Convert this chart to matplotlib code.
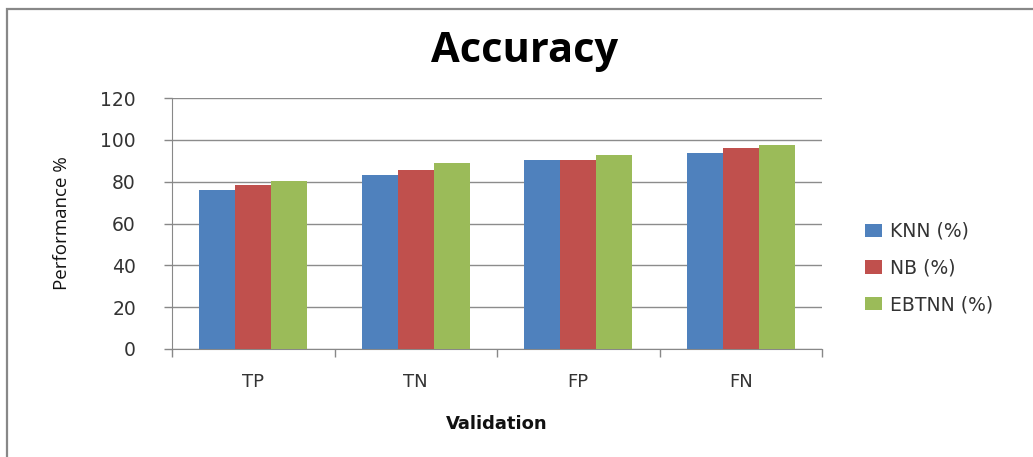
import numpy as np
import matplotlib
matplotlib.use('Agg')
import matplotlib.pyplot as plt
from matplotlib.patches import Rectangle

# data
categories = ['TP', 'TN', 'FP', 'FN']
series_names = ['KNN (%)', 'NB (%)', 'EBTNN (%)']
knn = [75.8, 83.3, 90.5, 93.9]
nb = [78.5, 85.6, 90.5, 96.3]
ebtnn = [80.4, 89.0, 92.9, 97.3]
yticks = [0, 20, 40, 60, 80, 100, 120]

colors = ['#4f81bd', '#c0504d', '#9bbb59']

W, H = 1033, 457
fig = plt.figure(figsize=(W / 100, H / 100), dpi=100)

# outer chart border (cut off at right and bottom)
fig.patches.append(Rectangle((7 / W, -0.1), 1.2, (H - 8.5) / H + 0.1,
                             transform=fig.transFigure, fill=False,
                             edgecolor='#888888', linewidth=1.6))

ax = fig.add_axes([172 / W, (H - 349) / H, 650 / W, 251 / H])

x = np.arange(len(categories))
bw = 1 / 4.5
for i, (vals, name) in enumerate(zip([knn, nb, ebtnn], series_names)):
    ax.bar(x + (i - 1) * bw, vals, width=bw, color=colors[i], label=name,
           zorder=3)

ax.set_xlim(-0.5, len(categories) - 0.5)
ax.set_ylim(0, 120)
ax.set_yticks(yticks)
ax.set_yticklabels([str(v) for v in yticks], fontsize=13.5, color='#333333')
ax.set_xticks(x)
ax.set_xticklabels(categories, fontsize=13, color='#333333')
ax.tick_params(axis='x', length=0, pad=17)
ax.tick_params(axis='y', length=6, width=1, color='#888888', pad=20)
# category boundary ticks
ax.set_xticks(np.arange(-0.5, len(categories), 1), minor=True)
ax.tick_params(axis='x', which='minor', length=6, width=1, color='#888888')

ax.grid(axis='y', color='#8c8c8c', linewidth=1, zorder=0)
for s in ['top', 'right']:
    ax.spines[s].set_visible(False)
ax.spines['left'].set_color('#888888')
ax.spines['bottom'].set_color('#888888')

ax.set_ylabel('Performance %', fontsize=13.5, family='Open Sans',
              color='#111111')
ax.yaxis.set_label_coords((71 - 172) / 650, 0.5)
ax.set_xlabel('Validation', fontsize=13, fontweight='bold', color='#111111')
ax.xaxis.set_label_coords(0.5, -(415 - 349) / 251)

fig.text(525 / W, 1 - 52 / H, 'Accuracy', fontsize=30, fontweight='bold',
         family='Open Sans', ha='center', va='center', color='#000000')

leg = fig.legend(loc='center left', bbox_to_anchor=(848 / W, 1 - 268 / H),
                 frameon=False, fontsize=13.5, handlelength=0.9,
                 handleheight=0.7, labelspacing=0.95, handletextpad=0.45)
for t in leg.get_texts():
    t.set_color('#333333')

fig.savefig('out.png', dpi=100, facecolor='white')
